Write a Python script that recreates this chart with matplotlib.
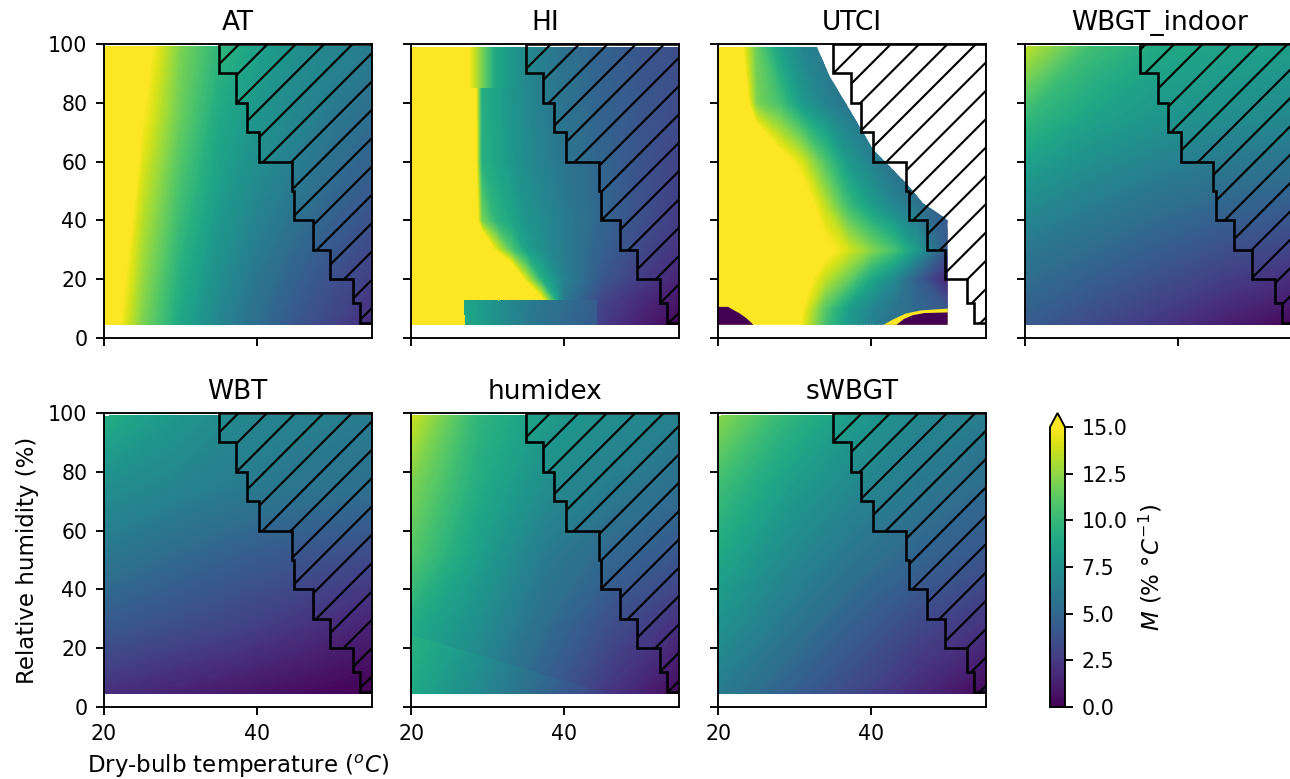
import numpy as np
import matplotlib
matplotlib.use('Agg')
import matplotlib.pyplot as plt
from matplotlib.colors import Normalize
from matplotlib.patches import Polygon
from matplotlib.cm import ScalarMappable

DPI = 170

plt.rcParams['font.family'] = 'DejaVu Sans'
plt.rcParams['hatch.linewidth'] = 0.9

# ---- data: M (% / degC) on (T, RH) nodes ----
titles = ['AT', 'HI', 'UTCI', 'WBGT_indoor', 'WBT', 'humidex', 'sWBGT']

T5 = [20, 28.75, 37.5, 46.25, 55]
RH5 = [4.5, 28, 52, 75, 99]

AT_T = [20, 25, 30, 35, 40, 45, 50, 55]
AT_RH = [4.5, 25, 50, 75, 99]
AT = [[17, 12.0, 8.8, 6.8, 5.3, 4.0, 3.0, 1.8],
      [18, 12.8, 9.5, 7.5, 6.0, 4.8, 3.8, 3.0],
      [20, 13.8, 10.5, 8.3, 7.0, 6.0, 5.0, 4.2],
      [22, 15.0, 11.5, 9.0, 7.8, 6.8, 6.0, 5.3],
      [24, 16.0, 12.0, 9.8, 8.5, 7.5, 6.8, 6.2]]

HI_T = [20, 26.9, 27.8, 29.2, 31, 33, 35, 37, 40, 45, 50, 55]
HI_RH = [4.5, 12.5, 20, 30, 40, 60, 85]
HI = [[20, 20, 20, 20, 20, 20, 20, 12, 4.5, 2.6, 1.3, 0.2],
      [20, 20, 20, 20, 20, 20, 20, 16, 6.0, 3.0, 1.8, 0.8],
      [20, 20, 20, 20, 20, 20, 14, 9.5, 6.5, 4.0, 2.6, 1.5],
      [20, 20, 20, 20, 14.5, 11, 8.5, 7.5, 6.2, 4.5, 3.2, 2.2],
      [20, 20, 20, 12, 9.8, 8.8, 7.8, 7.2, 6.2, 4.8, 3.6, 2.6],
      [20, 20, 20, 9.5, 8.8, 8.0, 7.2, 6.6, 5.8, 4.8, 3.8, 3.0],
      [20, 20, 20, 9.3, 8.6, 7.8, 7.0, 6.4, 5.6, 4.7, 4.0, 3.5]]
HI_TOP_T = [20, 27, 31, 35, 40, 45, 50, 55]
HI_TOP_RH = [85, 99]
HI_TOP = [[20, 16, 9.0, 7.0, 5.6, 4.7, 4.0, 3.5],
          [20, 16, 9.0, 7.0, 5.6, 4.7, 4.0, 3.5]]
HI_LOW_T = [27, 35.5, 44.3]
HI_LOW_RH = [4.5, 12.7]
HI_LOW = [[9.0, 6.0, 4.2],
          [8.8, 6.2, 4.4]]

UTCI_T = [20, 22, 25, 28, 31, 34, 37, 40, 43, 46, 50]
UTCI_RH = [4.5, 10, 20, 30, 45, 60, 80, 99]
UTCI = [[20, 20, 20, 20, 14.5, 10.5, 8.0, 6.5, 5.5, 4.8, 4.0],
        [20, 20, 20, 20, 15, 11, 8.3, 6.8, 5.8, 5.0, 4.0],
        [20, 20, 20, 20, 16, 13.5, 11.5, 8.8, 7.0, 4.5, 1.5],
        [20, 20, 20, 20, 17, 15.5, 14, 12.2, 10.5, 8.0, 4.0],
        [20, 20, 20, 20, 16.5, 13.5, 10.3, 8.3, 6.8, 5.8, 4.2],
        [20, 20, 20, 16, 14, 10.8, 8.0, 6.6, 5.4, 4.8, 4.2],
        [20, 20, 12, 10.5, 8.0, 6.6, 5.8, 5.3, 5.0, 4.5, 4.0],
        [20, 17, 11.5, 8.5, 6.8, 5.8, 5.5, 5.0, 4.5, 4.0, 3.5]]
# edge of the valid UTCI region
UTCI_EDGE_T = [20, 20, 32.9, 34.6, 37.2, 40.3, 44.6, 46.8, 49.4, 50, 50]
UTCI_EDGE_RH = [4.5, 99, 99, 88.9, 77.6, 64, 52.6, 45.8, 41.3, 40, 4.5]
UTCI_LOW1_T = [20, 20, 21.3, 22, 22.8, 23.7, 24.6]
UTCI_LOW1_RH = [4.5, 10.6, 10.6, 9.5, 8.4, 6.7, 4.5]
UTCI_CREST_T = [41.6, 43, 44.5, 46.5, 50, 50]
UTCI_CREST_RH = [4.5, 6.5, 8.3, 9.4, 10, 4.5]
UTCI_LOW2_T = [43.3, 44.3, 45.5, 47, 50, 50]
UTCI_LOW2_RH = [4.5, 6.5, 7.8, 8.5, 8.7, 4.5]
UTCI_LOW_VALUE = 0.0

WBGT_indoor = [[4.3, 3.3, 2.3, 1.2, 0.2],
               [5.8, 5.0, 4.2, 3.4, 2.8],
               [7.8, 6.8, 6.0, 5.4, 5.0],
               [10.0, 8.6, 7.8, 7.3, 7.0],
               [13.5, 10.3, 9.0, 8.6, 8.3]]

WBT = [[2.0, 1.4, 0.9, 0.4, 0.0],
       [4.2, 3.6, 3.0, 2.2, 1.4],
       [6.0, 5.2, 4.5, 3.9, 3.4],
       [7.4, 6.8, 6.2, 5.8, 5.5],
       [9.3, 8.0, 7.0, 6.5, 6.2]]

humidex = [[8.4, 6.5, 4.3, 2.2, 0.3],
           [9.2, 7.4, 5.3, 3.5, 2.0],
           [11.0, 8.4, 6.2, 4.9, 4.0],
           [12.0, 9.2, 7.3, 6.2, 5.4],
           [13.8, 9.8, 8.2, 7.3, 6.5]]
HX_LOW_T = [20, 28.75, 37.5, 46.25]
HX_LOW_RH = [4.5, 14.5, 24.5]
HX_LOW = [[9.0, 7.0, 4.8, 2.5],
          [9.3, 7.4, 5.2, 3.0],
          [9.6, 7.8, 5.6, 3.5]]
HX_TRI_T = [20, 20, 46]
HX_TRI_RH = [4.5, 24.5, 4.5]

sWBGT = [[6.2, 4.6, 3.2, 1.7, 0.2],
         [7.6, 6.0, 4.5, 3.2, 2.2],
         [9.0, 7.2, 5.9, 4.8, 4.0],
         [10.3, 8.4, 7.0, 6.0, 5.2],
         [12.3, 9.9, 8.2, 6.9, 6.3]]

# staircase edge of the hatched region
HATCH_T = [35, 35, 37.3, 37.3, 38.7, 38.7, 40.3, 40.3, 44.6, 44.6, 44.9, 44.9,
           47.3, 47.3, 49.6, 49.6, 52.6, 52.6, 53.5, 53.5, 55, 55]
HATCH_RH = [100, 90, 90, 80, 80, 70, 70, 60, 60, 50, 50, 40,
            40, 30, 30, 20, 20, 12, 12, 5, 5, 100]

cmap = plt.get_cmap('viridis')
norm = Normalize(vmin=0, vmax=15)
levels = np.linspace(0, 15, 151)


def field(ax, t, rh, vals, clip=None):
    cs = ax.contourf(t, rh, np.array(vals), levels=levels, cmap=cmap,
                     norm=norm, extend='both', antialiased=False)
    if clip is not None:
        poly = Polygon(np.column_stack(clip), closed=True,
                       transform=ax.transData)
        cs.set_clip_path(poly)
    return cs


fig = plt.figure(figsize=(1290 / DPI, 779 / DPI), dpi=DPI)
axes = fig.subplots(2, 4, sharex=True, sharey=True)
fig.subplots_adjust(left=0.0806, right=1.0023, bottom=0.0924, top=0.9435,
                    wspace=0.148, hspace=0.255)
axes[1, 3].remove()
ax_list = [axes[0, 0], axes[0, 1], axes[0, 2], axes[0, 3],
           axes[1, 0], axes[1, 1], axes[1, 2]]

# AT
field(ax_list[0], AT_T, AT_RH, AT)
# HI
field(ax_list[1], HI_T, HI_RH, HI)
field(ax_list[1], HI_TOP_T, HI_TOP_RH, HI_TOP)
field(ax_list[1], HI_LOW_T, HI_LOW_RH, HI_LOW)
# UTCI
ax = ax_list[2]
field(ax, UTCI_T, UTCI_RH, UTCI, clip=(UTCI_EDGE_T, UTCI_EDGE_RH))
ax.fill(UTCI_LOW1_T, UTCI_LOW1_RH, color=cmap(norm(UTCI_LOW_VALUE)), lw=0)
ax.fill(UTCI_CREST_T, UTCI_CREST_RH, color=cmap(1.0), lw=0)
ax.fill(UTCI_LOW2_T, UTCI_LOW2_RH, color=cmap(norm(UTCI_LOW_VALUE)), lw=0)
# the smooth ones
field(ax_list[3], T5, RH5, WBGT_indoor)
field(ax_list[4], T5, RH5, WBT)
field(ax_list[5], T5, RH5, humidex)
field(ax_list[5], HX_LOW_T, HX_LOW_RH, HX_LOW, clip=(HX_TRI_T, HX_TRI_RH))
field(ax_list[6], T5, RH5, sWBGT)

for ax, name in zip(ax_list, titles):
    ax.fill(HATCH_T, HATCH_RH, facecolor='none', edgecolor='k', hatch='//',
            linewidth=1.1, zorder=3)
    ax.set_title(name, fontsize=11.2)
    ax.set_xlim(20, 55)
    ax.set_ylim(0, 100)
    ax.set_xticks([20, 40])
    ax.set_yticks([0, 20, 40, 60, 80, 100])
    ax.tick_params(labelsize=8.7)

axes[1, 0].set_xlabel(r'Dry-bulb temperature ($^oC$)', fontsize=9.7)
axes[1, 0].set_ylabel('Relative humidity (%)', fontsize=9.7)

cax = fig.add_axes([1050 / 1290, 0.0924, 15 / 1290, 0.3774])
cb = fig.colorbar(ScalarMappable(norm=norm, cmap=cmap), cax=cax, extend='max')
cb.set_ticks([0, 2.5, 5, 7.5, 10, 12.5, 15])
cb.ax.tick_params(labelsize=8.7)
cb.set_label(r'$M$ (% $\degree C^{-1}$)', fontsize=9.7)

fig.savefig('out.png', dpi=DPI)
